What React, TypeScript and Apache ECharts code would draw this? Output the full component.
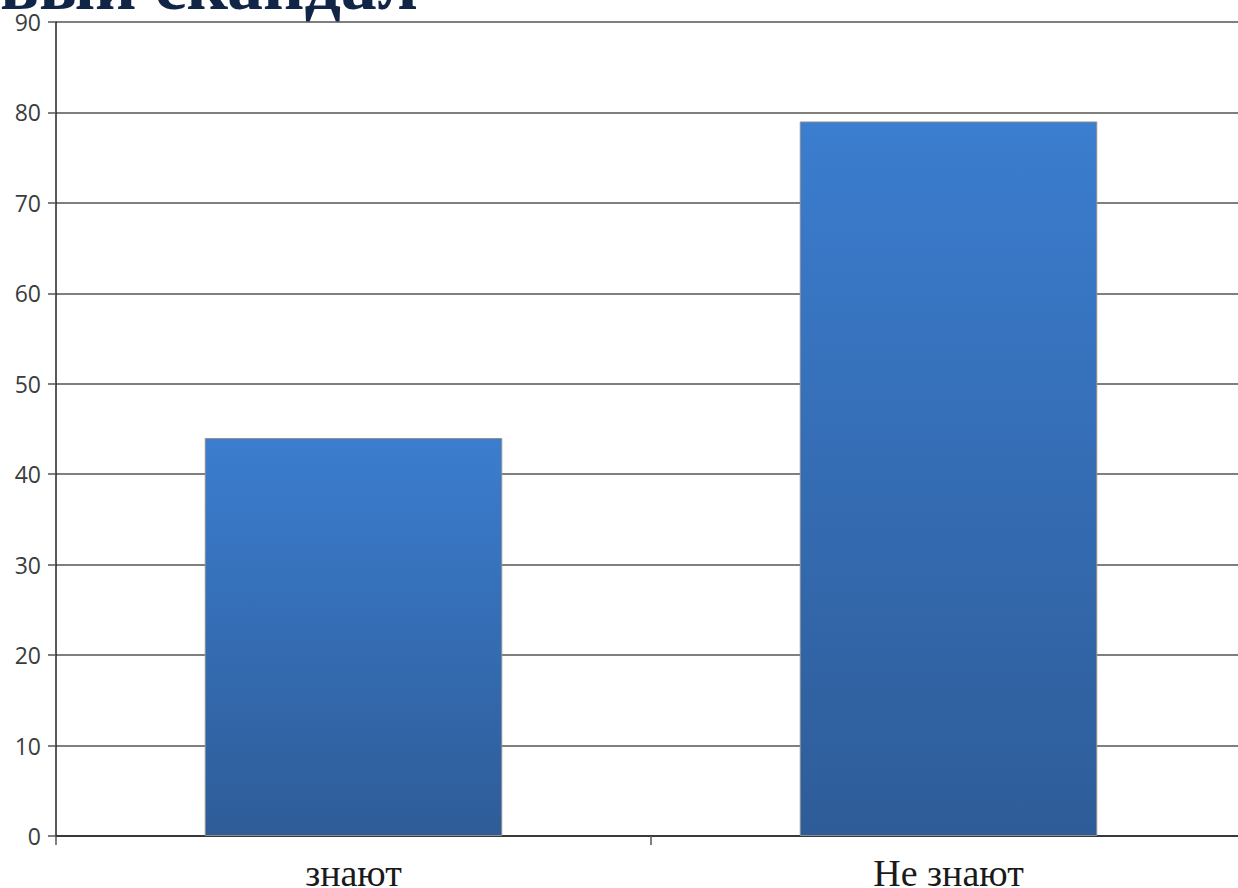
import React, { useEffect, useRef } from "react";
import * as echarts from "echarts";

const categories = ["знают", "Не знают"];
const values = [44, 79];
const titleText = "вый скандал";

export default function App() {
  const ref = useRef<HTMLDivElement>(null);
  useEffect(() => {
    document.body.style.margin = "0";
    document.body.style.overflow = "hidden";
    const chart = echarts.init(ref.current!, null, { renderer: "svg" });
    chart.setOption({
      animation: false,
      backgroundColor: "#ffffff",
      graphic: [
        {
          type: "text",
          left: 0,
          top: -51,
          style: {
            text: titleText,
            font: "bold 72px 'Liberation Serif', 'Times New Roman', serif",
            fill: "#112646",
          },
          z: 100,
        },
      ],
      grid: {
        left: 56,
        right: -8,
        top: 22,
        bottom: 52,
        containLabel: false,
        outerBoundsMode: "none",
      },
      xAxis: {
        type: "category",
        data: categories,
        axisLine: { show: true, lineStyle: { color: "#222", width: 1.5 } },
        axisTick: { show: true, length: 9, alignWithLabel: false, lineStyle: { color: "#555", width: 1.5 } },
        axisLabel: {
          margin: 22,
          lineHeight: 30,
          fontFamily: "'Liberation Serif', 'Times New Roman', serif",
          fontSize: 38,
          color: "#1a1a1a",
        },
        splitLine: { show: false },
      },
      yAxis: {
        type: "value",
        min: 0,
        max: 90,
        interval: 10,
        axisLine: { show: true, lineStyle: { color: "#222", width: 1.5 } },
        axisTick: { show: true, length: 8, lineStyle: { color: "#555", width: 1.5 } },
        axisLabel: {
          margin: 15,
          fontFamily: "'Open Sans', 'Noto Sans', sans-serif",
          fontSize: 23,
          color: "#3c3c3c",
        },
        splitLine: { show: true, lineStyle: { color: "#555", width: 1.5 } },
      },
      series: [
        {
          type: "bar",
          data: values,
          barWidth: "50%",
          itemStyle: {
            borderColor: "#8f8f8f",
            borderWidth: 1,
            color: new echarts.graphic.LinearGradient(0, 0, 0, 1, [
              { offset: 0, color: "#3b7dcf" },
              { offset: 1, color: "#2e5c98" },
            ]),
          },
        },
      ],
    });
    return () => chart.dispose();
  }, []);
  return <div ref={ref} style={{ width: 1238, height: 888 }} />;
}
